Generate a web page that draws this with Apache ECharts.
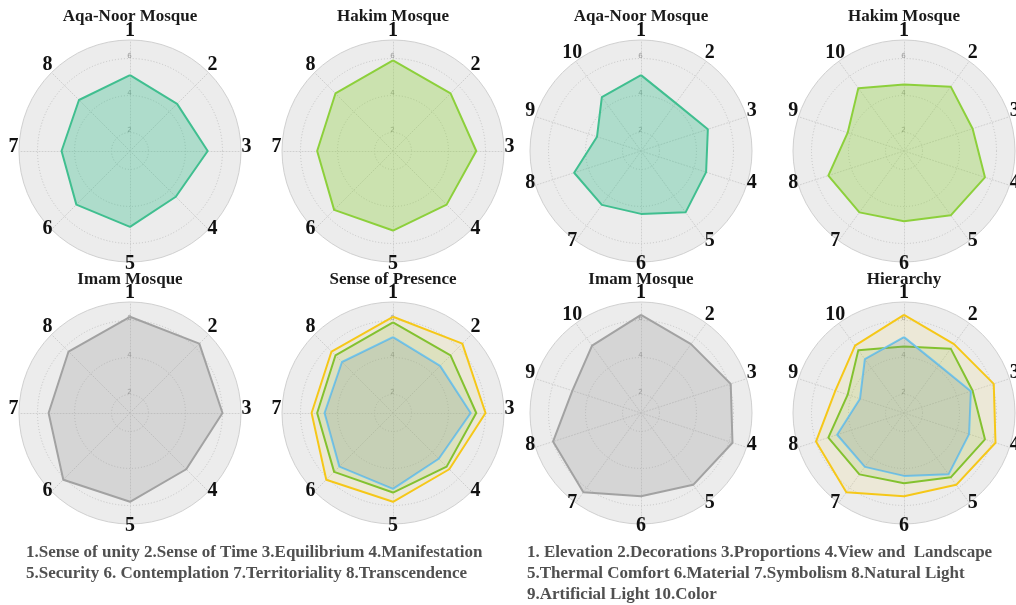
<!DOCTYPE html>
<html>
<head>
<meta charset="utf-8">
<title>Mosque assessment radar charts</title>
<script src="https://cdn.jsdelivr.net/npm/echarts@6/dist/echarts.min.js"></script>
<style>
  html, body { margin: 0; padding: 0; background: #ffffff; }
  #chart { width: 1016px; height: 605px; }
</style>
</head>
<body>
<div id="chart"></div>
<script>
// ---- Data -------------------------------------------------------------
// Spiritual criteria (8 axes)
const spiritLabels = ['1', '2', '3', '4', '5', '6', '7', '8'];
const aqaNoorSpirit = [5.1, 4.6, 5.2, 4.5, 5.1, 5.1, 4.7, 4.9];
const hakimSpirit   = [5.9, 5.4, 5.5, 5.1, 5.3, 5.5, 5.1, 5.4];
const imamSpirit    = [6.2, 6.3, 6.0, 5.3, 5.8, 6.1, 5.4, 5.7];

// Physical criteria (10 axes)
const physLabels = ['1', '2', '3', '4', '5', '6', '7', '8', '9', '10'];
const aqaNoorPhys = [5.1, 4.2, 4.8, 4.7, 5.1, 4.4, 4.6, 4.8, 3.5, 4.6];
const hakimPhys   = [4.6, 5.3, 4.9, 5.6, 5.3, 4.8, 5.1, 5.3, 4.2, 5.2];
const imamPhys    = [6.3, 5.6, 6.1, 6.2, 5.8, 5.5, 6.3, 6.0, 4.9, 5.5];

// Scale of every chart
const scaleMin = 1;
const scaleMax = 7;
const ringLabels = [2, 4, 6];

// Panel titles
const panelTitles = ['Aqa-Noor Mosque', 'Hakim Mosque', 'Aqa-Noor Mosque', 'Hakim Mosque',
                     'Imam Mosque', 'Sense of Presence', 'Imam Mosque', 'Hierarchy'];

const spiritLegend = '1.Sense of unity 2.Sense of Time 3.Equilibrium 4.Manifestation\n' +
                     '5.Security 6. Contemplation 7.Territoriality 8.Transcendence';
const physLegend = '1. Elevation 2.Decorations 3.Proportions 4.View and  Landscape\n' +
                   '5.Thermal Comfort 6.Material 7.Symbolism 8.Natural Light\n' +
                   '9.Artificial Light 10.Color';

// ---- Styles -----------------------------------------------------------
const FONT = '"Liberation Serif", "Times New Roman", serif';
const styles = {
  aqaSolo:   { line: '#41bf90', area: 'rgba(64,190,144,0.36)' },
  hakimSolo: { line: '#8dd03c', area: 'rgba(140,208,60,0.34)' },
  imamSolo:  { line: '#a3a3a3', area: 'rgba(160,160,160,0.30)' },
  imamMix:   { line: '#f6c714', area: 'rgba(240,215,90,0.14)' },
  hakimMix:  { line: '#83c22e', area: 'rgba(140,190,70,0.16)' },
  aqaMix:    { line: '#72c6ec', area: 'rgba(110,140,150,0.20)' }
};

// Panel layout: centre of every chart and which series it holds
const R = 111;
const cols = [130, 393, 641, 904];
const rows = [151, 413];
const panels = [
  { c: [cols[0], rows[0]], labels: spiritLabels, series: [[aqaNoorSpirit, styles.aqaSolo]] },
  { c: [cols[1], rows[0]], labels: spiritLabels, series: [[hakimSpirit, styles.hakimSolo]] },
  { c: [cols[2], rows[0]], labels: physLabels,   series: [[aqaNoorPhys, styles.aqaSolo]] },
  { c: [cols[3], rows[0]], labels: physLabels,   series: [[hakimPhys, styles.hakimSolo]] },
  { c: [cols[0], rows[1]], labels: spiritLabels, series: [[imamSpirit, styles.imamSolo]] },
  { c: [cols[1], rows[1]], labels: spiritLabels,
    series: [[imamSpirit, styles.imamMix], [hakimSpirit, styles.hakimMix], [aqaNoorSpirit, styles.aqaMix]] },
  { c: [cols[2], rows[1]], labels: physLabels,   series: [[imamPhys, styles.imamSolo]] },
  { c: [cols[3], rows[1]], labels: physLabels,
    series: [[imamPhys, styles.imamMix], [hakimPhys, styles.hakimMix], [aqaNoorPhys, styles.aqaMix]] }
];

// ECharts lays indicators counter-clockwise; reorder so axis 2 sits to the right of axis 1
function clockwise(arr) {
  return [arr[0]].concat(arr.slice(1).reverse());
}

const radars = [];
const series = [];
const titles = [];

panels.forEach(function (p, i) {
  const names = clockwise(p.labels);
  const indicator = names.map(function (n, k) {
    const ind = { name: n, min: scaleMin, max: scaleMax };
    if (k === 0) {
      ind.axisLabel = {
        show: true,
        margin: 0,
        formatter: function (v) { return ringLabels.indexOf(v) >= 0 ? '{t|' + v + '}' : ''; },
        rich: { t: { width: 1, lineHeight: 1, align: 'center', padding: [0, 0, 5, 0],
                     fontSize: 7, color: '#9a9a9a', fontFamily: 'DejaVu Sans' } }
      };
    }
    return ind;
  });

  // grid: grey disc, dotted rings at 2/4/6 and dotted spokes
  radars.push({
    center: p.c,
    radius: R,
    startAngle: 90,
    shape: 'circle',
    splitNumber: scaleMax - scaleMin,
    indicator: indicator,
    axisName: {
      formatter: function (name) { return '{n|' + name + '}'; },
      rich: { n: { width: 1, lineHeight: 1, align: 'center', padding: [0, 0, 8, 0],
                   fontFamily: FONT, fontWeight: 'bold', fontSize: 20, color: '#111' } }
    },
    nameGap: 5,
    axisLine: { show: true, lineStyle: { color: '#cfcfcf', type: [1, 2], width: 1 } },
    axisTick: { show: false },
    axisLabel: { show: false },
    splitLine: { show: true, lineStyle: {
      color: ['rgba(0,0,0,0)', '#c4c4c4', 'rgba(0,0,0,0)', '#c4c4c4', 'rgba(0,0,0,0)', '#c4c4c4', 'rgba(0,0,0,0)'],
      type: [1, 2], width: 1 } },
    splitArea: { show: true, areaStyle: { color: ['#ececec'] } }
  });

  // solid outer rim
  radars.push({
    center: p.c,
    radius: R,
    startAngle: 90,
    shape: 'circle',
    splitNumber: 1,
    indicator: names.map(function (n) { return { name: n, min: scaleMin, max: scaleMax }; }),
    axisName: { show: false },
    axisLine: { show: false },
    axisTick: { show: false },
    axisLabel: { show: false },
    splitLine: { show: true, lineStyle: { color: ['rgba(0,0,0,0)', '#d0d0d0'], width: 1 } },
    splitArea: { show: false }
  });

  series.push({
    type: 'radar',
    radarIndex: radars.length - 2,
    symbol: 'none',
    silent: true,
    data: p.series.map(function (s) {
      return {
        value: clockwise(s[0]),
        lineStyle: { color: s[1].line, width: 2 },
        areaStyle: { color: s[1].area, opacity: 1 }
      };
    })
  });

  titles.push({
    text: panelTitles[i],
    left: p.c[0],
    textAlign: 'center',
    top: i < 4 ? 8 : 271,
    padding: 0,
    textStyle: { fontFamily: FONT, fontWeight: 'bold', fontSize: 17, color: '#1a1a1a' }
  });
});

titles.push({
  text: spiritLegend, left: 26, top: 542, padding: 0,
  textStyle: { fontFamily: FONT, fontWeight: 'bold', fontSize: 17, lineHeight: 21, color: '#505050' }
});
titles.push({
  text: physLegend, left: 527, top: 542, padding: 0,
  textStyle: { fontFamily: FONT, fontWeight: 'bold', fontSize: 17, lineHeight: 21, color: '#505050' }
});

const chart = echarts.init(document.getElementById('chart'), null, { renderer: 'canvas' });
chart.setOption({
  backgroundColor: '#ffffff',
  animation: false,
  title: titles,
  radar: radars,
  series: series
});
</script>
</body>
</html>
